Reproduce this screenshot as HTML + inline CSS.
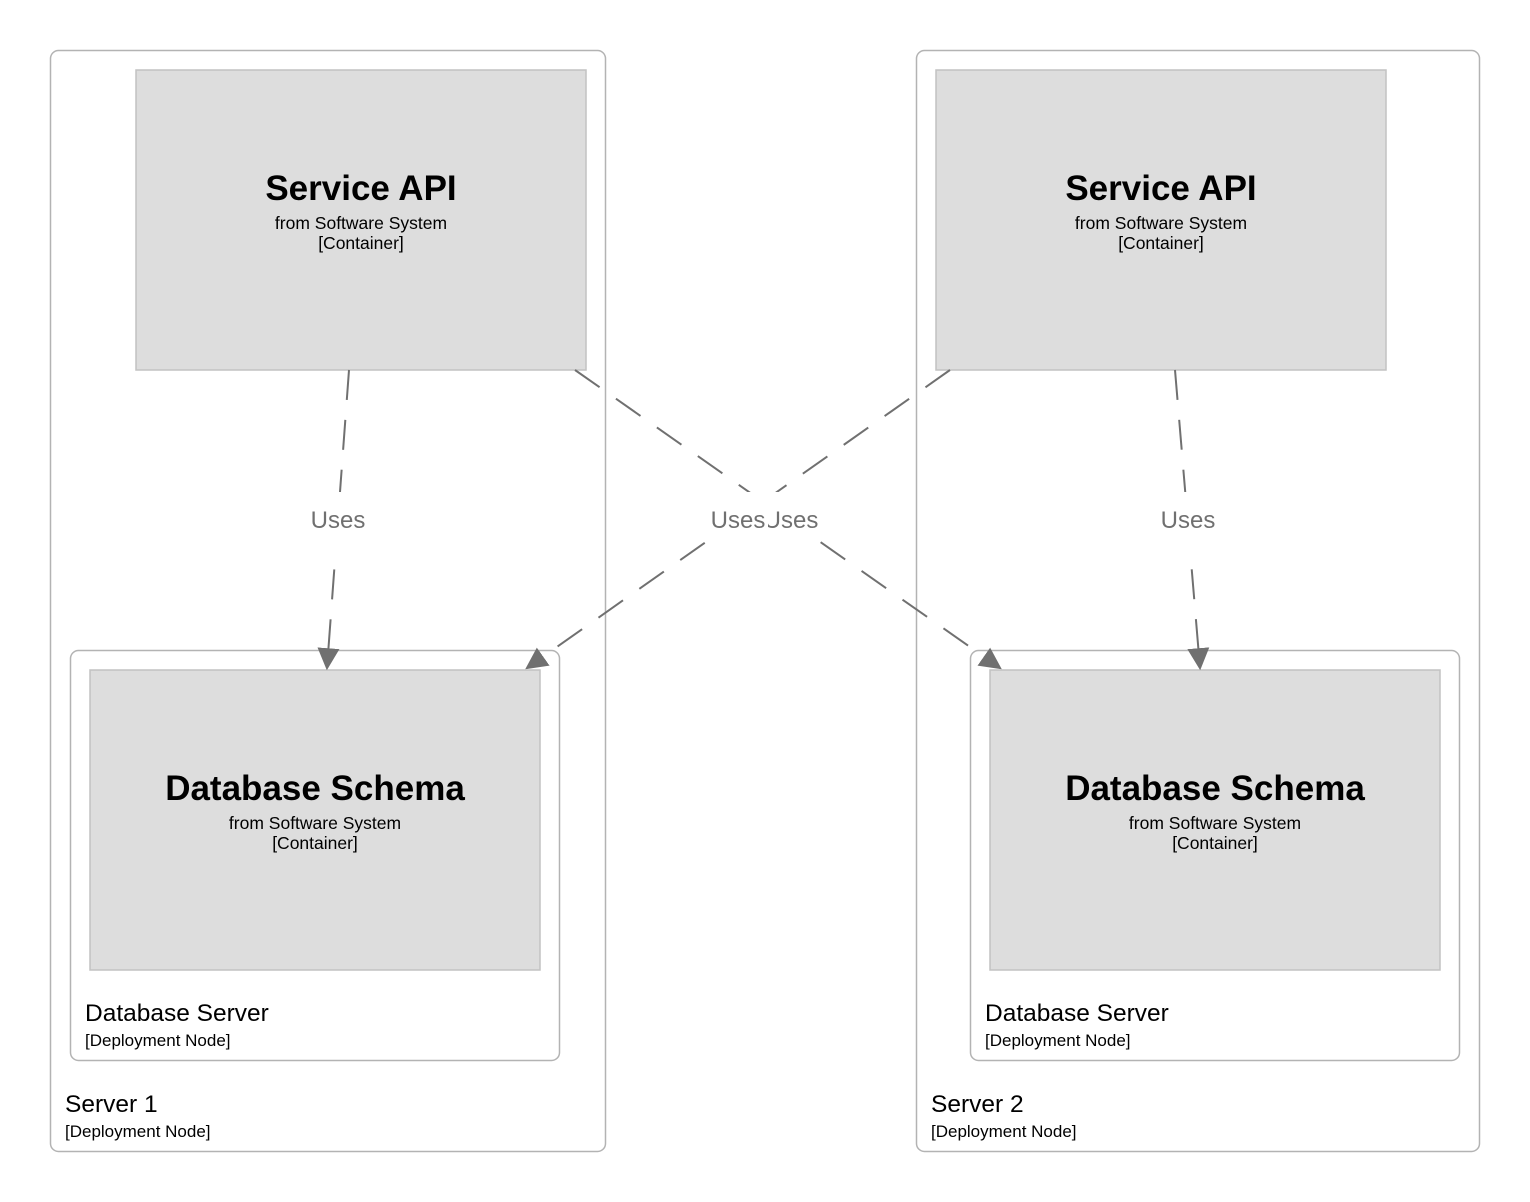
<!DOCTYPE html>
<html><head><meta charset="utf-8"><style>
html,body{margin:0;padding:0;background:#fff;}
svg{display:block;font-family:"Liberation Sans",sans-serif;}
</style></head><body>
<svg width="1530" height="1202" viewBox="0 0 1530 1202" xmlns="http://www.w3.org/2000/svg">
<defs>
<marker id="ah" viewBox="0 0 10 10" refX="9" refY="5" markerWidth="22" markerHeight="22" markerUnits="userSpaceOnUse" orient="auto">
<path d="M0,0 L10,5 L0,10 z" fill="#707070"/>
</marker>
</defs>
<rect x="50.5" y="50.5" width="555" height="1101" rx="8" fill="#fff" stroke="#b3b3b3" stroke-width="1.5"/>
<rect x="916.5" y="50.5" width="563" height="1101" rx="8" fill="#fff" stroke="#b3b3b3" stroke-width="1.5"/>
<rect x="70.5" y="650.5" width="489" height="410" rx="8" fill="#fff" stroke="#b3b3b3" stroke-width="1.5"/>
<rect x="970.5" y="650.5" width="489" height="410" rx="8" fill="#fff" stroke="#b3b3b3" stroke-width="1.5"/>
<rect x="136" y="70" width="450" height="300" fill="#dddddd" stroke="#c2c2c2" stroke-width="1.5"/>
<rect x="936" y="70" width="450" height="300" fill="#dddddd" stroke="#c2c2c2" stroke-width="1.5"/>
<rect x="90" y="670" width="450" height="300" fill="#dddddd" stroke="#c2c2c2" stroke-width="1.5"/>
<rect x="990" y="670" width="450" height="300" fill="#dddddd" stroke="#c2c2c2" stroke-width="1.5"/>
<g text-anchor="middle" fill="#000">
<text x="361" y="200" font-size="35" font-weight="bold">Service API</text>
<text x="361" y="229" font-size="17.5">from Software System</text>
<text x="361" y="249" font-size="17.5">[Container]</text>
<text x="1161" y="200" font-size="35" font-weight="bold">Service API</text>
<text x="1161" y="229" font-size="17.5">from Software System</text>
<text x="1161" y="249" font-size="17.5">[Container]</text>
<text x="315" y="800" font-size="35" font-weight="bold">Database Schema</text>
<text x="315" y="829" font-size="17.5">from Software System</text>
<text x="315" y="849" font-size="17.5">[Container]</text>
<text x="1215" y="800" font-size="35" font-weight="bold">Database Schema</text>
<text x="1215" y="829" font-size="17.5">from Software System</text>
<text x="1215" y="849" font-size="17.5">[Container]</text>
</g>
<g fill="#000">
<text x="85" y="1021" font-size="24.5">Database Server</text>
<text x="85" y="1046" font-size="17">[Deployment Node]</text>
<text x="985" y="1021" font-size="24.5">Database Server</text>
<text x="985" y="1046" font-size="17">[Deployment Node]</text>
<text x="65" y="1112" font-size="24.5">Server 1</text>
<text x="65" y="1137" font-size="17">[Deployment Node]</text>
<text x="931" y="1112" font-size="24.5">Server 2</text>
<text x="931" y="1137" font-size="17">[Deployment Node]</text>
</g>
<g stroke="#707070" stroke-width="2" fill="none" stroke-dasharray="30,20" marker-end="url(#ah)">
<line x1="349" y1="370" x2="327" y2="668"/>
<line x1="1175" y1="370" x2="1200" y2="668"/>
<line x1="575" y1="370" x2="1000" y2="668"/>
<line x1="950" y1="370" x2="527" y2="668"/>
</g>
<g font-size="24" fill="#707070" text-anchor="middle">
<rect x="766" y="492" width="52" height="52" fill="#fff"/>
<text x="791" y="528">Uses</text>
<rect x="708" y="492" width="60" height="52" fill="#fff"/>
<text x="738" y="528">Uses</text>
<rect x="308" y="492" width="60" height="60" fill="#fff"/>
<text x="338" y="528">Uses</text>
<rect x="1158" y="492" width="60" height="60" fill="#fff"/>
<text x="1188" y="528">Uses</text>
</g>
</svg>
</body></html>
